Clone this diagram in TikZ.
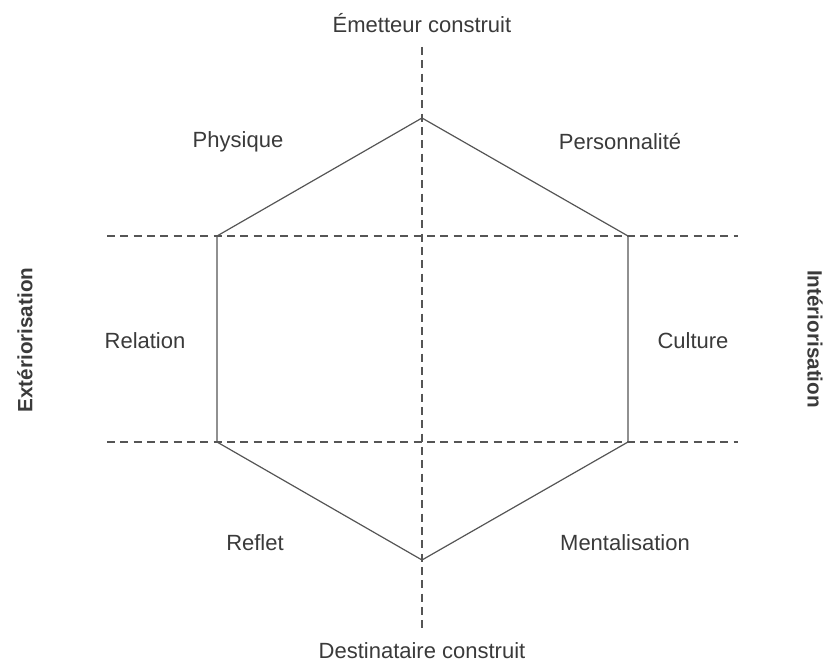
\documentclass[tikz,border=0pt]{standalone}
\usepackage{fontspec}
\setmainfont{Liberation Sans}
\definecolor{ink}{HTML}{3A3A3A}
\definecolor{rule}{HTML}{555555}

\begin{document}
\begin{tikzpicture}
    [x=0.75pt,y=-0.75pt,
     every node/.style={text=ink,font=\fontsize{16.5}{20}\selectfont,inner sep=0pt},
     side/.style={font=\fontsize{15.5}{18}\selectfont\bfseries},
     hexa/.style={draw=rule,line width=0.9pt,line join=miter},
     axis/.style={draw=rule,line width=0.9pt,dash pattern=on 6pt off 4pt}]
    \useasboundingbox (0,0) rectangle (826,666);
    \coordinate (h1) at (422,118);
    \coordinate (h2) at (628,236);
    \coordinate (h3) at (628,442);
    \coordinate (h4) at (422,560);
    \coordinate (h5) at (217,442);
    \coordinate (h6) at (217,236);
    \coordinate (vt) at (422,47);
    \coordinate (vb) at (422,628);
    \coordinate (ul) at (107,236);
    \coordinate (ur) at (738,236);
    \coordinate (ll) at (107,442);
    \coordinate (lr) at (738,442);
    \node (emetteur) at (422,23) {Émetteur construit};
    \node (destinataire) at (422,651) {Destinataire construit};
    \node (physique) at (238,142) {Physique};
    \node (personnalite) at (620,142) {Personnalité};
    \node (relation) at (145,341) {Relation};
    \node (culture) at (693,341) {Culture};
    \node (reflet) at (255,543) {Reflet};
    \node (mentalisation) at (625,543) {Mentalisation};
    \node[side,rotate=90] (exterior) at (25,340) {Extériorisation};
    \node[side,rotate=-90] (interior) at (815,339) {Intériorisation};
    \draw[axis] (vt) -- (vb) ;
    \draw[axis] (ul) -- (ur) ;
    \draw[axis] (ll) -- (lr) ;
    \draw[hexa] (h1) -- (h2) -- (h3) -- (h4) -- (h5) -- (h6) -- cycle ;
\end{tikzpicture}
\end{document}
